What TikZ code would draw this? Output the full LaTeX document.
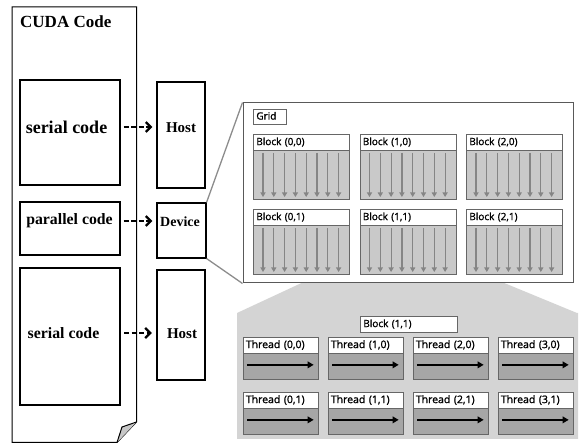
\documentclass[tikz,border=0pt]{standalone}
\usepackage{fontspec}
\setmainfont{Liberation Serif}
\newfontfamily\uisans[FakeBold=1.3]{Open Sans}
\usetikzlibrary{arrows.meta}
\begin{document}
\begin{tikzpicture}[x=1pt,y=-1pt,
  codebox/.style={draw, line width=1.1pt, inner sep=0pt},
  thickbox/.style={draw, line width=2.3pt, inner sep=0pt},
  serlbl/.style={inner sep=0pt, font=\bfseries\fontsize{#1}{#1}\selectfont},
  dasharrow/.style={line width=2.2pt, dash pattern=on 5pt off 2.5pt,
    -{Straight Barb[length=5pt,width=10pt,line width=2.3pt]}, shorten <=3pt, shorten >=4pt},
  zoomline/.style={draw=black!45, line width=1.3pt},
  panelfill/.style={fill=black!17},
  gridbox/.style={draw=black!65, fill=white, line width=1pt, inner sep=0pt},
  tag/.style={draw=black!60, fill=white, line width=0.7pt, inner sep=0pt, anchor=north west,
    font=\uisans\fontsize{10}{10}\selectfont, align=left, text height=7.5pt, text depth=2pt},
  blkhead/.style={tag, minimum height=16pt, text width=90pt, inner xsep=3pt},
  blkbody/.style={draw=black!60, fill=black!21, line width=0.7pt, anchor=north west,
    minimum width=96pt, minimum height=49pt, inner sep=0pt},
  blkarrow/.style={draw=black!48, line width=1.2pt, -{Triangle[length=4.5pt,width=5pt]}},
  thrhead/.style={tag, minimum height=16pt, text width=70pt, inner xsep=2.5pt,
    font=\uisans\fontsize{10.5}{10.5}\selectfont},
  thrbody/.style={draw=black!60, fill=black!35, line width=0.7pt, anchor=north west,
    minimum width=75pt, minimum height=26pt, inner sep=0pt},
  thrarrow/.style={draw=black, line width=1.7pt, -{Triangle[length=6pt,width=6.5pt]}}
]
\useasboundingbox (0,0) rectangle (579,443);

% ---- thread panel (background, drawn first) ----
\fill[panelfill] (323,273) -- (480,273) -- (577,313) -- (578,313) -- (578,439)
  -- (237,439) -- (237,313) -- cycle;

% ---- CUDA code page ----
\draw[line width=1pt] (12,442.5) -- (12,7) -- (136.5,7) -- (136.5,422) -- (117,442.5) -- cycle;
\filldraw[fill=black!22, line width=1pt] (136.5,422) -- (122,427) -- (117,442.5);
\node[serlbl=17, anchor=west] (cuda) at (20,22) {CUDA Code};

% ---- code boxes ----
\node[codebox, minimum width=100pt, minimum height=105pt] (ser1) at (70,132.5) {};
\node[codebox, minimum width=100pt, minimum height=53pt] (par) at (70,228.5) {};
\node[thickbox, minimum width=100pt, minimum height=137pt] (ser2) at (70,336.5) {};
\node[serlbl=18] (t1) at (66.5,127) {serial code};
\node[serlbl=15.8] (t2) at (69.5,221) {parallel code};
\node[serlbl=15.8] (t3) at (63.5,333) {serial code};

% ---- host / device boxes ----
\node[codebox, minimum width=48pt, minimum height=106pt] (host1) at (181,135) {};
\node[codebox, minimum width=49pt, minimum height=55pt] (dev) at (181.5,230.5) {};
\node[thickbox, minimum width=48pt, minimum height=110pt] (host2) at (181,325) {};
\node[serlbl=15] (h1) at (181,127.5) {Host};
\node[serlbl=14] (d1) at (180,221.5) {Device};
\node[serlbl=15] (h2) at (182,333.5) {Host};

% ---- dashed arrows ----
\draw[dasharrow] (ser1.east |- t1) -- (host1.west |- t1);
\draw[dasharrow] (par.east |- t2) -- (dev.west |- t2);
\draw[dasharrow] (ser2.east |- t3) -- (host2.west |- t3);

% ---- grid ----
\node[gridbox, minimum width=330pt, minimum height=180pt] (grid) at (408,193) {};
\draw[zoomline] (dev.north east) -- (grid.north west);
\draw[zoomline] (dev.south east) -- (grid.south west);
\node[tag, minimum height=15pt, text width=27pt, inner xsep=3pt] (gridlbl) at (253,109) {Grid};

\foreach \i in {0,1,2} {
  \foreach \j in {0,1} {
    \pgfmathsetmacro\bx{253+\i*106.5}
    \pgfmathsetmacro\by{134+\j*75}
    \node[blkhead] (bh\i\j) at (\bx,\by) {Block (\i,\j)};
    \node[blkbody] (bb\i\j) at (\bx,\by+16) {};
    \foreach \k in {0,...,7} {
      \draw[blkarrow] (bb\i\j.north west) ++(10+\k*10.8,3) -- ++(0,44);
    }
  }
}

% ---- block (1,1) detail ----
\node[tag, minimum height=16pt, text width=91pt, inner xsep=3pt] (blk11) at (360,316) {Block (1,1)};
\foreach \i in {0,1,2,3} {
  \foreach \j in {0,1} {
    \pgfmathsetmacro\tx{243+\i*85}
    \pgfmathsetmacro\ty{337+\j*55}
    \node[thrhead] (th\i\j) at (\tx,\ty) {Thread (\i,\j)};
    \node[thrbody] (tb\i\j) at (\tx,\ty+16) {};
    \draw[thrarrow] ([xshift=4pt,yshift=1.5pt]tb\i\j.west) -- ([xshift=-5pt,yshift=1.5pt]tb\i\j.east);
  }
}
\end{tikzpicture}
\end{document}
